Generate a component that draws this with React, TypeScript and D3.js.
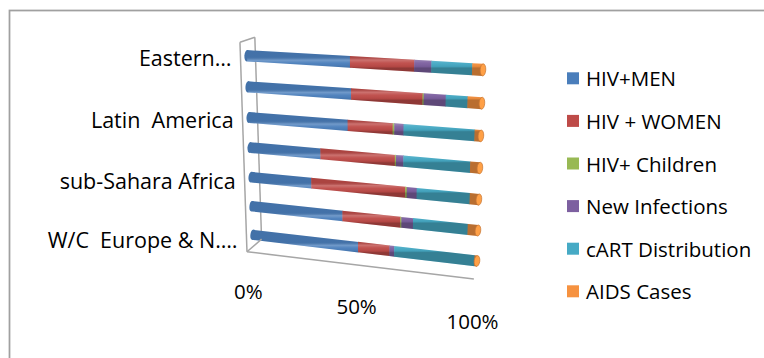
import React from 'react';
import * as d3 from 'd3';

// ---------- data ----------
const categories = [
  'W/C  Europe & N. America',
  'Middle East & N. Africa',
  'sub-Sahara Africa',
  'South & South-East Asia',
  'Latin  America',
  'East Asia & Oceania',
  'Eastern Europe & Central Asia',
];
const categoryTickLabels = ['W/C  Europe & N.…', '', 'sub-Sahara Africa', '', 'Latin  America', '', 'Eastern…'];
const seriesNames = ['HIV+MEN', 'HIV + WOMEN', 'HIV+ Children', 'New Infections', 'cART Distribution', 'AIDS Cases'];
const hivMen = [48.6, 41.7, 27.8, 32.1, 44.2, 45.8, 45.4];
const hivWomen = [13.9, 25.5, 41.4, 32.5, 19.3, 30.1, 26.9];
const hivChildren = [0, 0.5, 0.7, 0.5, 0.7, 0.5, 0];
const newInfections = [2.1, 5.0, 4.2, 3.1, 3.9, 9.0, 7.0];
const cartDistribution = [34.3, 23.1, 22.2, 27.8, 29.2, 8.8, 16.4];
const aidsCases = [1.1, 4.3, 3.8, 4.0, 2.6, 5.8, 4.3];
const valueTicks = [0, 0.5, 1];
const valueTickLabels = ['0%', '50%', '100%'];
const seriesColors = ['#4A7EBB', '#BE4B48', '#98B954', '#7D60A0', '#46AAC5', '#F69240'];

// ---------- layout (projection of the 3D plot plane) ----------
const QUAD: [number, number][] = [
  [253.5, 249], // value 0, bottom
  [476.5, 276], // value 1, bottom
  [483.5, 53], // value 1, top
  [246.5, 40], // value 0, top
];
const VP: [number, number] = [643, -92];
const Z_FRONT = -0.0165;
const Z_BACK = 0.021;
const R = 0.18;
const FONT = "'Open Sans', sans-serif";

function makeHomography(q: [number, number][]) {
  const [[x0, y0], [x1, y1], [x2, y2], [x3, y3]] = q;
  const sx = x0 - x1 + x2 - x3;
  const sy = y0 - y1 + y2 - y3;
  const dx1 = x1 - x2, dx2 = x3 - x2, dy1 = y1 - y2, dy2 = y3 - y2;
  const den = dx1 * dy2 - dx2 * dy1;
  const g = (sx * dy2 - dx2 * sy) / den;
  const h = (dx1 * sy - sx * dy1) / den;
  const a = x1 - x0 + g * x1, b = x3 - x0 + h * x3, c = x0;
  const d = y1 - y0 + g * y1, e = y3 - y0 + h * y3, f = y0;
  return (u: number, w: number): [number, number] => {
    const D = g * u + h * w + 1;
    return [(a * u + b * w + c) / D, (d * u + e * w + f) / D];
  };
}

export default function App() {
  const xS = d3.scaleLinear().domain([0, 1]).range([0, 1]);
  const cS = d3.scaleLinear().domain([-0.5, 6.5]).range([0, 1]);
  const hom = makeHomography(QUAD);
  const P = (v: number, c: number, z = 0): [number, number] => {
    const [x, y] = hom(xS(v), cS(c));
    return [x + z * (VP[0] - x), y + z * (VP[1] - y)];
  };
  const poly = (pts: [number, number][]) => 'M' + pts.map((p) => p[0].toFixed(2) + ',' + p[1].toFixed(2)).join('L') + 'Z';
  const line = (a: [number, number], b: [number, number], key: string) => (
    <line key={key} x1={a[0]} y1={a[1]} x2={b[0]} y2={b[1]} stroke="#A6A6A6" strokeWidth={1.5} />
  );

  const keys = ['s0', 's1', 's2', 's3', 's4', 's5'];
  const seriesArrays = [hivMen, hivWomen, hivChildren, newInfections, cartDistribution, aidsCases];
  const rows = categories.map((name, i) => {
    const r: any = { name };
    keys.forEach((k, s) => (r[k] = seriesArrays[s][i]));
    return r;
  });
  const stacked = d3.stack<any>().keys(keys).offset(d3.stackOffsetExpand)(rows);

  const C_BOT = -0.4;
  const C_TOP = 6.5;

  const bars = categories.map((_, i) => {
    const c = i;
    const top0 = P(0, c + R), bot0 = P(0, c - R), top1 = P(1, c + R), bot1 = P(1, c - R);
    const mTop = P(0.5, c + R), mBot = P(0.5, c - R);
    const c0 = P(0, c), c1 = P(1, c);
    const ang = (Math.atan2(c1[1] - c0[1], c1[0] - c0[0]) * 180) / Math.PI;
    const ry0 = Math.hypot(top0[0] - bot0[0], top0[1] - bot0[1]) / 2;
    const ry1 = Math.hypot(top1[0] - bot1[0], top1[1] - bot1[1]) / 2;
    let lastS = 0;
    let firstS = -1;
    stacked.forEach((s, si) => {
      const [v0, v1] = s[i];
      if (v1 - v0 > 1e-6) {
        lastS = si;
        if (firstS < 0) firstS = si;
      }
    });
    const gid = 'shade' + i;
    return (
      <g key={'bar' + i}>
        <defs>
          <linearGradient id={gid} gradientUnits="userSpaceOnUse" x1={mTop[0]} y1={mTop[1]} x2={mBot[0]} y2={mBot[1]}>
            <stop offset="0" stopColor="#000" stopOpacity={0.1} />
            <stop offset="0.28" stopColor="#fff" stopOpacity={0.22} />
            <stop offset="0.55" stopColor="#fff" stopOpacity={0.04} />
            <stop offset="0.85" stopColor="#000" stopOpacity={0.06} />
            <stop offset="1" stopColor="#000" stopOpacity={0.25} />
          </linearGradient>
        </defs>
        <ellipse
          transform={`translate(${c0[0]},${c0[1]}) rotate(${ang})`}
          rx={2.6}
          ry={ry0}
          fill={seriesColors[firstS]}
        />
        <ellipse transform={`translate(${c0[0]},${c0[1]}) rotate(${ang})`} rx={2.6} ry={ry0} fill={`url(#${gid})`} />
        {stacked.map((s, si) => {
          const [v0, v1] = s[i];
          if (v1 - v0 <= 1e-6) return null;
          const ve = si === lastS ? v1 : Math.min(1, v1 + 0.002);
          return (
            <path
              key={si}
              d={poly([P(v0, c + R), P(ve, c + R), P(ve, c - R), P(v0, c - R)])}
              fill={seriesColors[si]}
            />
          );
        })}
        <path d={poly([top0, top1, bot1, bot0])} fill={`url(#${gid})`} />
        <ellipse
          transform={`translate(${c1[0]},${c1[1]}) rotate(${ang})`}
          rx={2.8}
          ry={ry1}
          fill={d3.color(seriesColors[lastS])!.brighter(0.25).toString()}
          stroke={d3.color(seriesColors[lastS])!.darker(0.6).toString()}
          strokeWidth={0.7}
        />
      </g>
    );
  });

  return (
    <svg
      width={764}
      height={358}
      style={{ position: 'absolute', left: 0, top: 0, display: 'block', background: '#fff' }}
      fontFamily={FONT}
    >
      <rect x={9.5} y={10.5} width={900} height={500} fill="#fff" stroke="#A0A0A0" strokeWidth={1.75} />
      {/* back wall edge */}
      {line(P(0, C_BOT, Z_BACK), P(0, C_TOP, Z_BACK), 'backv')}
      {bars}
      {line(P(0, C_BOT, Z_FRONT), P(0, C_TOP, Z_FRONT), 'frontv')}
      {line(P(0, C_TOP, Z_FRONT), P(0, C_TOP, Z_BACK), 'topd')}
      {line(P(0, C_BOT, Z_FRONT), P(0, C_BOT, Z_BACK), 'botd')}
      {line(P(0, C_BOT, Z_FRONT), P(1, C_BOT, Z_FRONT), 'floor')}

      {categoryTickLabels.map((t, i) => {
        if (!t) return null;
        const p = P(0, i, Z_FRONT);
        return (
          <text
            key={'cl' + i}
            x={p[0] - 9}
            y={p[1] - 1}
            textAnchor="end"
            dominantBaseline="central"
            fontSize={21.5}
            fill="#000"
            style={{ whiteSpace: 'pre' }}
          >
            {t}
          </text>
        );
      })}

      {valueTicks.map((v, i) => {
        const p = P(v, -1.8, Z_FRONT);
        return (
          <text key={'vt' + i} x={p[0]} y={p[1]} textAnchor="middle" dominantBaseline="central" fontSize={20.5} fill="#000">
            {valueTickLabels[i]}
          </text>
        );
      })}

      {seriesNames.map((n, i) => {
        const y = 78.3 + i * 42.6;
        return (
          <g key={'lg' + i}>
            <rect x={567} y={y - 6} width={12} height={12} fill={seriesColors[i]} />
            <text x={586} y={y} dominantBaseline="central" fontSize={20.5} fill="#000">
              {n}
            </text>
          </g>
        );
      })}
    </svg>
  );
}
